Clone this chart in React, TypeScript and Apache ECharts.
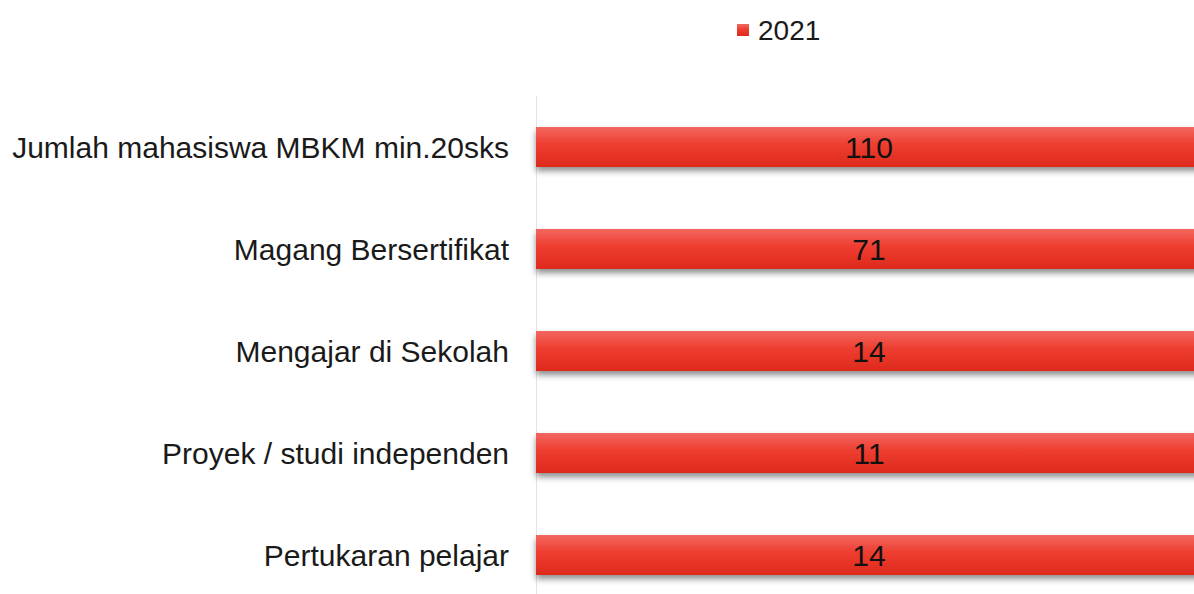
import React, { useEffect, useRef } from "react";
import * as echarts from "echarts";

const categories = [
  "Jumlah mahasiswa MBKM min.20sks",
  "Magang Bersertifikat",
  "Mengajar di Sekolah",
  "Proyek / studi independen",
  "Pertukaran pelajar",
];
const values2021 = [110, 71, 14, 11, 14];
const seriesName = "2021";

export default function App() {
  const ref = useRef<HTMLDivElement>(null);
  useEffect(() => {
    if (!ref.current) return;
    const chart = echarts.init(ref.current, null, { renderer: "svg" });
    const font = "'Liberation Sans', Arial, sans-serif";
    chart.setOption({
      animation: false,
      backgroundColor: "#ffffff",
      legend: {
        data: [seriesName],
        left: 732,
        top: 11,
        icon: "rect",
        itemWidth: 12,
        itemHeight: 12,
        textStyle: { fontFamily: font, fontSize: 28, color: "#1a1a1a", padding: [0, 0, 0, 4] },
      },
      grid: { left: 536, width: 666, top: 96, height: 510, containLabel: false },
      xAxis: {
        type: "value",
        min: 0,
        max: 10,
        show: false,
      },
      yAxis: {
        type: "category",
        data: categories,
        inverse: true,
        axisLine: { show: true, lineStyle: { color: "#e3e3e3", width: 1 } },
        axisTick: { show: false },
        axisLabel: {
          fontFamily: font,
          fontSize: 30,
          color: "#1a1a1a",
          margin: 27,
        },
        splitLine: { show: false },
      },
      series: [
        {
          name: seriesName,
          type: "bar",
          data: values2021,
          barWidth: 40,
          clip: true,
          itemStyle: {
            color: new echarts.graphic.LinearGradient(0, 0, 0, 1, [
              { offset: 0, color: "#f36760" },
              { offset: 0.45, color: "#ee3d2f" },
              { offset: 1, color: "#de291d" },
            ]),
            shadowColor: "rgba(0,0,0,0.45)",
            shadowBlur: 6,
            shadowOffsetY: 4,
          },
          label: {
            show: true,
            position: "inside",
            fontFamily: font,
            fontSize: 30,
            color: "#111111",
          },
        },
      ],
    });
    return () => chart.dispose();
  }, []);
  return (
    <div style={{ position: "fixed", left: 0, top: 0, width: 1194, height: 594, overflow: "hidden", background: "#fff" }}>
      <div ref={ref} style={{ width: 1210, height: 620 }} />
    </div>
  );
}
